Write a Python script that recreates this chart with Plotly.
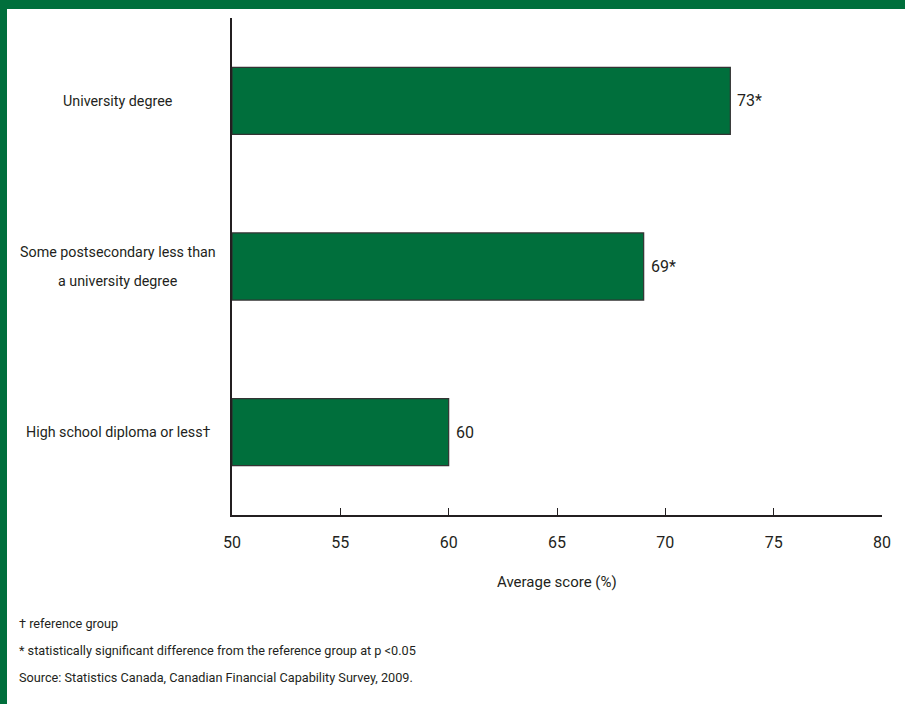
import plotly.graph_objects as go

# Financial capability scores by education level
categories = [
    "High school diploma or less†",
    "Some postsecondary less than<br>a university degree",
    "University degree",
]
scores = [60, 69, 73]
value_labels = ["60", "69*", "73*"]
x_ticks = [50, 55, 60, 65, 70, 75, 80]

GREEN = "#006f3c"
INK = "#231f20"
FONT = "Roboto, Arial, sans-serif"

W, H = 905, 704
ML, MR, MT, MB = 232, 23, 18, 189
PW, PH = W - ML - MR, H - MT - MB
LINE_GAP = 29  # spacing between wrapped category label lines, px


def px_x(p):
    return (p - ML) / PW


def px_y(p):
    return (H - MB - p) / PH


fig = go.Figure()
fig.add_trace(go.Bar(
    y=list(range(len(categories))),
    x=[s - 50 for s in scores],
    base=50,
    orientation="h",
    width=0.405,
    marker=dict(color=GREEN, line=dict(color="#333333", width=1.2)),
    hoverinfo="skip",
))

annotations = []
for i, (cat, s, lab) in enumerate(zip(categories, scores, value_labels)):
    lines = cat.split("<br>")
    n = len(lines)
    for j, line in enumerate(lines):
        annotations.append(dict(
            x=px_x(118), xref="paper", y=i, yref="y", text=line,
            showarrow=False, xanchor="center", align="center",
            yshift=((n - 1) / 2 - j) * LINE_GAP,
            font=dict(family=FONT, size=14.3, color=INK),
        ))
    annotations.append(dict(
        x=s, xref="x", y=i, yref="y", text=lab, showarrow=False,
        xanchor="left", xshift=5,
        font=dict(family=FONT, size=16, color=INK),
    ))

annotations.append(dict(
    x=0.5, xref="paper", y=px_y(582), yref="paper", text="Average score (%)",
    showarrow=False, xanchor="center", yanchor="middle",
    font=dict(family=FONT, size=15, color=INK),
))

notes = [
    "† reference group",
    "* statistically significant difference from the reference group at p &lt;0.05",
    "Source: Statistics Canada, Canadian Financial Capability Survey, 2009.",
]
for k, note in enumerate(notes):
    annotations.append(dict(
        x=px_x(17), xref="paper", y=px_y(623 + 27 * k), yref="paper",
        text=note, showarrow=False, xanchor="left", yanchor="middle",
        font=dict(family=FONT, size=12.7, color=INK),
    ))

shapes = [
    # green frame: top band and left rule
    dict(type="rect", xref="paper", yref="paper", x0=px_x(0), x1=px_x(W),
         y0=px_y(9), y1=px_y(0), fillcolor=GREEN, line=dict(width=0), layer="above"),
    dict(type="rect", xref="paper", yref="paper", x0=px_x(0), x1=px_x(7),
         y0=px_y(H), y1=px_y(0), fillcolor=GREEN, line=dict(width=0), layer="above"),
]

fig.update_layout(
    width=W, height=H,
    margin=dict(l=ML, r=MR, t=MT, b=MB, pad=0),
    paper_bgcolor="white", plot_bgcolor="white",
    showlegend=False,
    annotations=annotations,
    shapes=shapes,
    xaxis=dict(
        range=[50, 80], tickvals=x_ticks, ticks="inside", ticklen=7,
        tickcolor=INK, tickwidth=1.2, showgrid=False, zeroline=False,
        showline=True, linecolor=INK, linewidth=1.5, ticklabelstandoff=12,
        tickfont=dict(family=FONT, size=16, color=INK), fixedrange=True,
    ),
    yaxis=dict(
        range=[-0.5, 2.5], showticklabels=False, ticks="", showgrid=False,
        zeroline=False, showline=True, linecolor=INK, linewidth=1.5,
        fixedrange=True,
    ),
)

fig.write_html("out.html")
